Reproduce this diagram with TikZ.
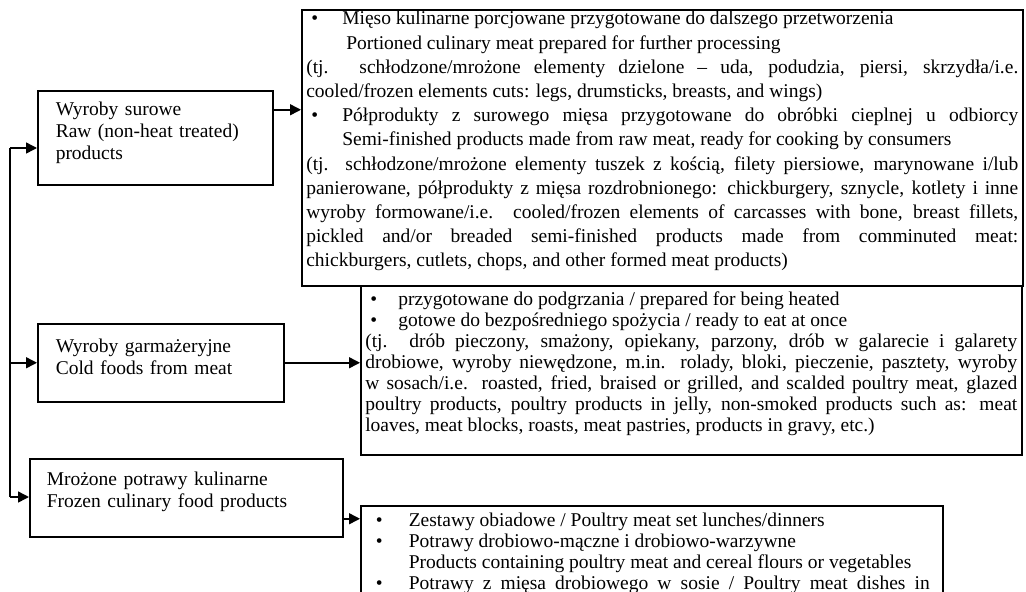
\documentclass[tikz,border=0pt]{standalone}
\usepackage{fontspec}
\setmainfont{Liberation Serif}
\usetikzlibrary{positioning, arrows.meta}

% bullet with hanging indent: #1 = bullet offset, #2 = text indent
\newcommand{\bul}[2]{\hangindent=#2\relax\hangafter=1\relax\makebox[#2][l]{\hspace*{#1}\textbullet}}

\begin{document}
\begin{tikzpicture}[
    x=1pt, y=-1pt,
    catbox/.style={draw, line width=1.5pt, anchor=north west, align=left, inner xsep=18pt, inner ysep=0pt, font=\fontsize{19.5}{22}\selectfont},
    descbox/.style={draw, line width=1.6pt, anchor=north west, align=justify, inner xsep=4.5pt, inner ysep=0pt,
        font=\fontsize{19.5}{21}\selectfont,
        execute at begin node={\tolerance=9999\relax\hyphenpenalty=10000\relax\exhyphenpenalty=10000\relax}},
    arrow/.style={-{Triangle[length=11pt, width=11pt]}, line width=1.5pt}
]
\useasboundingbox (0,0) rectangle (1026,592);
\clip (0,0) rectangle (1026,592);

% Nodes
\node (rawcat) [catbox, text width=199pt, text height=24.5pt, text depth=69.5pt] at (37,90)
    {Wyroby surowe\\Raw (non-heat treated)\\products};
\node (coldcat) [catbox, text width=210pt, text height=28.5pt, text depth=49.5pt] at (37,323)
    {Wyroby garmażeryjne\\Cold foods from meat};
\node (frozencat) [catbox, inner xsep=17pt, text width=279pt, text height=27pt, text depth=51pt] at (29,458)
    {Mrożone potrawy kulinarne\\Frozen culinary food products};

\node (rawdesc) [descbox, font=\fontsize{19.5}{24.2}\selectfont, text width=712pt, text height=15pt, text depth=261pt] at (301,9)
    {\bul{5pt}{36pt}Mięso kulinarne porcjowane przygotowane do dalszego przetworzenia\newline
     \hspace*{4pt}Portioned culinary meat prepared for further processing\par
     (tj. schłodzone/mrożone elementy dzielone – uda, podudzia, piersi, skrzydła/i.e.\linebreak
     cooled/frozen elements cuts: legs, drumsticks, breasts, and wings)\par
     \bul{5pt}{36pt}Półprodukty z surowego mięsa przygotowane do obróbki cieplnej u odbiorcy\linebreak
     Semi-finished products made from raw meat, ready for cooking by consumers\par
     (tj. schłodzone/mrożone elementy tuszek z kością, filety piersiowe, marynowane i/lub\linebreak
     panierowane, półprodukty z mięsa rozdrobnionego: chickburgery, sznycle, kotlety i inne\linebreak
     wyroby formowane/i.e. cooled/frozen elements of carcasses with bone, breast fillets,\linebreak
     pickled and/or breaded semi-finished products made from comminuted meat:\linebreak
     chickburgers, cutlets, chops, and other formed meat products)};
\node (colddesc) [descbox, text width=652pt, text height=19.5pt, text depth=149.5pt] at (360,285)
    {\bul{5pt}{33pt}przygotowane do podgrzania / prepared for being heated\par
     \bul{5pt}{33pt}gotowe do bezpośredniego spożycia / ready to eat at once\par
     (tj. drób pieczony, smażony, opiekany, parzony, drób w galarecie i galarety\linebreak
     drobiowe, wyroby niewędzone, m.in. rolady, bloki, pieczenie, pasztety, wyroby\linebreak
     w sosach/i.e. roasted, fried, braised or grilled, and scalded poultry meat, glazed\linebreak
     poultry products, poultry products in jelly, non-smoked products such as: meat\linebreak
     loaves, meat blocks, roasts, meat pastries, products in gravy, etc.)};
\node (frozendesc) [descbox, inner xsep=5pt, text width=572pt, text height=20.5pt, text depth=110pt] at (360,505)
    {\parbox[t]{564pt}{\rightskip=0pt\relax
     \bul{10pt}{43pt}Zestawy obiadowe / Poultry meat set lunches/dinners\par
     \bul{10pt}{43pt}Potrawy drobiowo-mączne i drobiowo-warzywne\newline
     Products containing poultry meat and cereal flours or vegetables\par
     \bul{10pt}{43pt}Potrawy z mięsa drobiowego w sosie / Poultry meat dishes in\linebreak\mbox{}}};

% Arrows
\coordinate (trunktop) at (10,148);
\coordinate (trunkend) at (10,497);
\draw [line width=1.5pt] (trunktop) -- (trunkend);
\draw [arrow] (trunktop) -- (trunktop -| rawcat.west);
\draw [arrow] (coldcat.west -| trunktop) -- (coldcat.west);
\draw [arrow] (trunkend) -- (trunkend -| frozencat.west);

\draw [arrow] ([yshift=28pt]rawcat.east) coordinate (rawout) -- (rawout -| rawdesc.west);
\draw [arrow] (coldcat.east) -- (coldcat.east -| colddesc.west);
\draw [arrow] ([yshift=-21pt]frozencat.east) coordinate (frozenout) -- (frozenout -| frozendesc.west);

\end{tikzpicture}
\end{document}
